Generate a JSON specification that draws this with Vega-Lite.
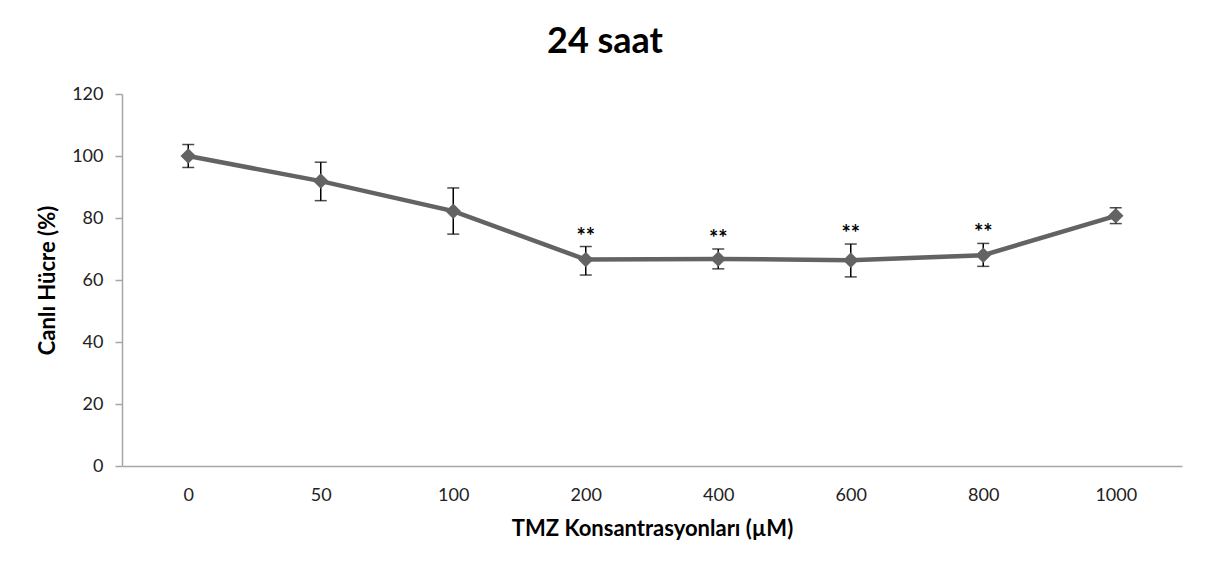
{
  "$schema": "https://vega.github.io/schema/vega-lite/v6.json",
  "width": 1060,
  "height": 372,
  "autosize": "none",
  "padding": {"left": 122, "top": 94, "right": 26, "bottom": 108},
  "background": "white",
  "title": {
    "text": "24 saat",
    "font": "Lato",
    "fontSize": 36,
    "fontWeight": "bold",
    "color": "#000000",
    "anchor": "middle",
    "offset": 24,
    "dx": -47
  },
  "config": {
    "view": {"stroke": null},
    "font": "Lato"
  },
  "data": {
    "values": [
      {"conc": "0", "value": 100, "lower": 96.3, "upper": 103.7, "star": ""},
      {"conc": "50", "value": 91.9, "lower": 85.6, "upper": 98.0, "star": ""},
      {"conc": "100", "value": 82.2, "lower": 74.8, "upper": 89.7, "star": ""},
      {"conc": "200", "value": 66.6, "lower": 61.6, "upper": 70.8, "star": "**"},
      {"conc": "400", "value": 66.8, "lower": 63.6, "upper": 70.0, "star": "**"},
      {"conc": "600", "value": 66.4, "lower": 61.0, "upper": 71.6, "star": "**"},
      {"conc": "800", "value": 68.0, "lower": 64.4, "upper": 71.8, "star": "**"},
      {"conc": "1000", "value": 80.7, "lower": 78.2, "upper": 83.3, "star": ""}
    ]
  },
  "encoding": {
    "x": {
      "field": "conc",
      "type": "ordinal",
      "sort": null,
      "scale": {"type": "point", "padding": 0.5},
      "axis": {
        "title": "TMZ Konsantrasyonları (µM)",
        "titleFont": "Lato",
        "titleFontSize": 22,
        "titleFontWeight": "bold",
        "titleColor": "#000000",
        "titlePadding": 14,
        "labelAngle": 0,
        "labelFont": "Lato",
        "labelFontSize": 18,
        "labelColor": "#222222",
        "labelPadding": 20,
        "ticks": false,
        "domainColor": "#a6a6a6",
        "domainWidth": 1.5,
        "grid": false
      }
    }
  },
  "layer": [
    {
      "mark": {"type": "rule", "color": "#000000", "strokeWidth": 1.5},
      "encoding": {
        "y": {"field": "lower", "type": "quantitative"},
        "y2": {"field": "upper"}
      }
    },
    {
      "mark": {"type": "tick", "color": "#000000", "thickness": 1.5, "size": 12, "orient": "horizontal"},
      "encoding": {"y": {"field": "upper", "type": "quantitative"}}
    },
    {
      "mark": {"type": "tick", "color": "#000000", "thickness": 1.5, "size": 12, "orient": "horizontal"},
      "encoding": {"y": {"field": "lower", "type": "quantitative"}}
    },
    {
      "mark": {"type": "line", "color": "#636363", "strokeWidth": 4.5},
      "encoding": {
        "y": {
          "field": "value",
          "type": "quantitative",
          "scale": {"domain": [0, 120]},
          "axis": {
            "title": "Canlı Hücre (%)",
            "titleFont": "Lato",
            "titleFontSize": 22,
            "titleFontWeight": "bold",
            "titleColor": "#000000",
            "titlePadding": 12,
            "values": [0, 20, 40, 60, 80, 100, 120],
            "labelFont": "Lato",
            "labelFontSize": 18,
            "labelColor": "#222222",
            "labelPadding": 12,
            "tickColor": "#a6a6a6",
            "tickSize": 7,
            "tickWidth": 1.5,
            "domainColor": "#a6a6a6",
            "domainWidth": 1.5,
            "grid": false
          }
        }
      }
    },
    {
      "mark": {"type": "point", "shape": "diamond", "filled": true, "color": "#636363", "size": 240, "opacity": 1},
      "encoding": {"y": {"field": "value", "type": "quantitative"}}
    },
    {
      "mark": {"type": "text", "font": "Lato", "fontSize": 22, "fontWeight": "bold", "color": "#000000", "baseline": "middle", "dy": -10, "letterSpacing": 4},
      "encoding": {
        "y": {"field": "upper", "type": "quantitative"},
        "text": {"field": "star"}
      }
    }
  ]
}
